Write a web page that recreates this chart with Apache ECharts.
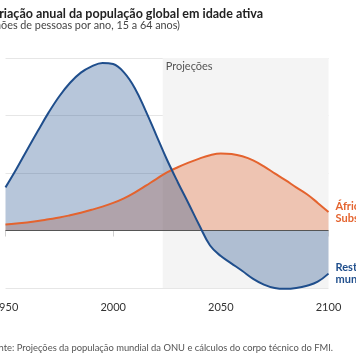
<!DOCTYPE html>
<html>
<head>
<meta charset="utf-8">
<script src="https://cdn.jsdelivr.net/npm/echarts@6/dist/echarts.min.js"></script>
<style>
html,body{margin:0;padding:0;background:#fff;}
#c{width:356px;height:364px;}
</style>
</head>
<body>
<div id="c"></div>
<script>
var years = [1950,1955,1960,1965,1970,1975,1980,1985,1990,1995,2000,2005,2010,2015,2020,2025,2030,2035,2040,2045,2050,2055,2060,2065,2070,2075,2080,2085,2090,2095,2100];
var restOfWorld = [15.0,21.3,28.0,34.6,41.0,46.7,51.4,54.9,57.1,58.3,57.9,55.0,49.6,41.8,33.2,24.6,16.8,9.4,1.8,-5.2,-8.9,-11.5,-14.1,-16.8,-18.8,-20.0,-20.3,-20.0,-19.2,-17.8,-15.0];
var subSaharanAfrica = [2.1,2.4,2.8,3.3,3.9,4.5,5.3,6.2,7.2,8.3,9.6,11.2,13.2,15.5,17.9,20.2,22.0,23.6,25.0,26.2,26.8,26.6,25.8,24.4,22.3,19.9,17.5,15.0,12.6,9.6,6.4];
var xTicks = [1950, 2000, 2050, 2100];
var projectionStart = 2023;
var seriesNames = ['África\nSubsaariana', 'Resto do\nmundo'];
var titleText = 'Variação anual da população global em idade ativa';
var subtitleText = '(Milhões de pessoas por ano, 15 a 64 anos)';
var sourceText = 'Fonte: Projeções da população mundial da ONU e cálculos do corpo técnico do FMI.';
var projectionLabel = 'Projeções';

function pairs(vals){ return years.map(function(y,i){ return [y, vals[i]]; }); }

var BLUE = '#1f4e8c', ORANGE = '#e4632e';
var FONT = 'Lato, "Open Sans", sans-serif';

var chart = echarts.init(document.getElementById('c'), null, {renderer:'canvas'});
chart.setOption({
  animation: false,
  textStyle: {fontFamily: FONT},
  grid: {left: 5.5, right: 27.5, top: 58, bottom: 76, containLabel: false, outerBoundsMode: 'none'},
  xAxis: {
    type: 'value', min: xTicks[0], max: xTicks[xTicks.length-1], interval: 50,
    axisLine: {show: false},
    axisTick: {show: true, length: 6, lineStyle: {color: '#cfcfcf'}},
    splitLine: {show: false},
    axisLabel: {margin: 14, fontSize: 11, color: '#333', fontFamily: FONT, formatter: function(v){ return String(v); }}
  },
  yAxis: {
    type: 'value', min: -20, max: 60, interval: 20,
    axisLabel: {show: false}, axisLine: {show: false}, axisTick: {show: false},
    splitLine: {lineStyle: {color: '#e6e6e6', width: 1}}
  },
  graphic: [
    {type: 'text', x: 263, y: 14, style: {text: titleText, font: 'bold 12.5px ' + FONT, fill: '#222', align: 'right', verticalAlign: 'middle'}},
    {type: 'text', x: 180, y: 26, style: {text: subtitleText, font: '10.8px ' + FONT, fill: '#444', align: 'right', verticalAlign: 'middle'}},
    {type: 'text', x: 333, y: 348, style: {text: sourceText, font: '9.4px ' + FONT, fill: '#555', align: 'right', verticalAlign: 'middle'}}
  ],
  series: [
    {
      type: 'line', data: [], z: 1, silent: true,
      markArea: {
        silent: true,
        itemStyle: {color: '#f4f4f4'},
        label: {show: true, position: 'insideTopLeft', distance: 3, color: '#555', fontSize: 11, fontFamily: FONT},
        data: [[{name: projectionLabel, xAxis: projectionStart, yAxis: 60}, {xAxis: xTicks[xTicks.length-1], yAxis: -20}]]
      }
    },
    {
      type: 'line', data: pairs(subSaharanAfrica), z: 2, smooth: 0.4, showSymbol: false, clip: false,
      lineStyle: {width: 0}, areaStyle: {color: ORANGE, opacity: 0.33}, silent: true
    },
    {
      type: 'line', data: pairs(restOfWorld), z: 3, smooth: 0.4, showSymbol: false, clip: false,
      lineStyle: {width: 0}, areaStyle: {color: BLUE, opacity: 0.32}, silent: true
    },
    {
      type: 'line', data: pairs(subSaharanAfrica), z: 4, smooth: 0.4, showSymbol: false, clip: false,
      lineStyle: {width: 2, color: ORANGE}, silent: true,
      endLabel: {show: true, formatter: seriesNames[0], color: ORANGE, fontWeight: 'bold', fontSize: 11, lineHeight: 12, distance: 7, fontFamily: FONT}
    },
    {
      type: 'line', data: pairs(restOfWorld), z: 5, smooth: 0.4, showSymbol: false, clip: false,
      lineStyle: {width: 2, color: BLUE}, silent: true,
      endLabel: {show: true, formatter: seriesNames[1], color: BLUE, fontWeight: 'bold', fontSize: 11, lineHeight: 12, distance: 7, fontFamily: FONT},
      markLine: {silent: true, symbol: 'none', label: {show: false}, lineStyle: {color: '#555', width: 1, type: 'solid'}, data: [{yAxis: 0}]}
    }
  ]
});
</script>
</body>
</html>
